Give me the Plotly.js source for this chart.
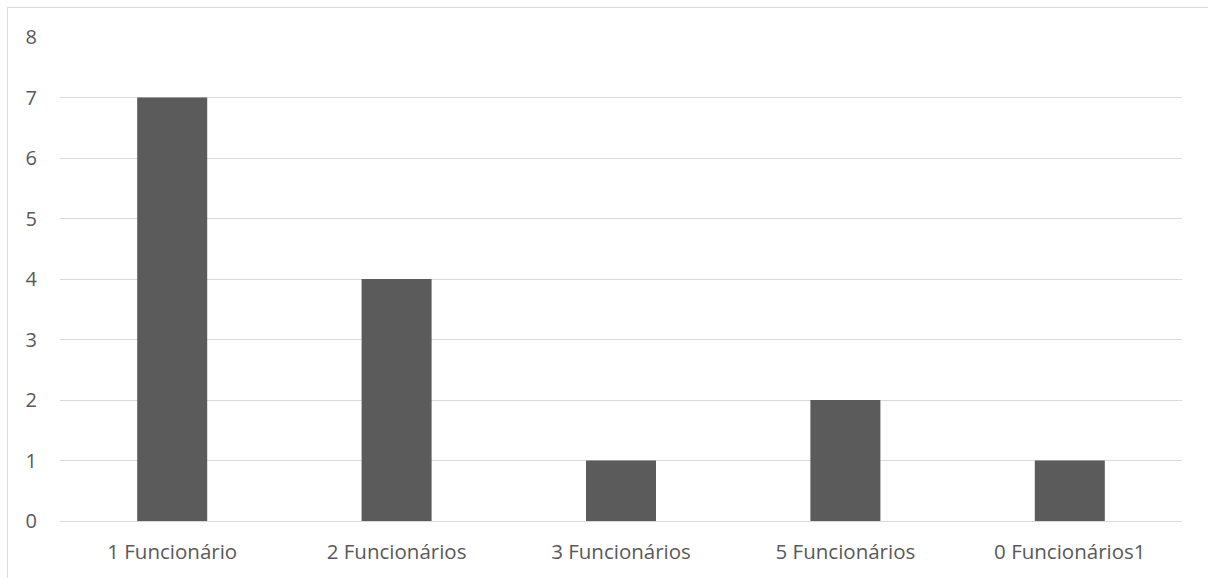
<!DOCTYPE html>
<html>
<head>
<meta charset="utf-8">
<script src="https://cdn.plot.ly/plotly-3.0.1.min.js"></script>
<style>
html,body{margin:0;padding:0;background:#fff;overflow:hidden;}
#frame{position:absolute;left:7px;top:7px;width:1300px;height:700px;border-left:1px solid #d9d9d9;border-top:1px solid #d9d9d9;}
#chart{position:absolute;left:0;top:0;width:1208px;height:578px;}
</style>
</head>
<body>
<div id="frame"></div>
<div id="chart"></div>
<script>
const categories = ["1 Funcionário", "2 Funcionários", "3 Funcionários", "5 Funcionários", "0 Funcionários1"];
const values = [7, 4, 1, 2, 1];
const yTicks = [0, 1, 2, 3, 4, 5, 6, 7, 8];

const trace = {
  type: "bar",
  x: categories,
  y: values,
  marker: {color: "#5b5b5b"},
  hoverinfo: "x+y"
};

const layout = {
  width: 1208,
  height: 578,
  margin: {l: 60, r: 26, t: 37, b: 57},
  paper_bgcolor: "rgba(0,0,0,0)",
  plot_bgcolor: "rgba(0,0,0,0)",
  bargap: 0.688,
  showlegend: false,
  font: {family: "Open Sans, Liberation Sans, sans-serif", size: 20, color: "#595959"},
  xaxis: {
    type: "category",
    showgrid: false,
    showline: false,
    zeroline: false,
    ticks: "",
    ticklabelstandoff: 16,
    tickfont: {size: 20.5, color: "#595959"}
  },
  yaxis: {
    range: [0, 8],
    tickvals: yTicks,
    ticktext: yTicks.map(String),
    showgrid: true,
    gridcolor: "#d9d9d9",
    gridwidth: 1,
    zeroline: true,
    zerolinecolor: "#d9d9d9",
    zerolinewidth: 1,
    showline: false,
    ticks: "",
    ticklabelstandoff: 22,
    tickfont: {size: 20, color: "#595959"}
  }
};

Plotly.newPlot("chart", [trace], layout, {displayModeBar: false, staticPlot: true});
</script>
</body>
</html>
